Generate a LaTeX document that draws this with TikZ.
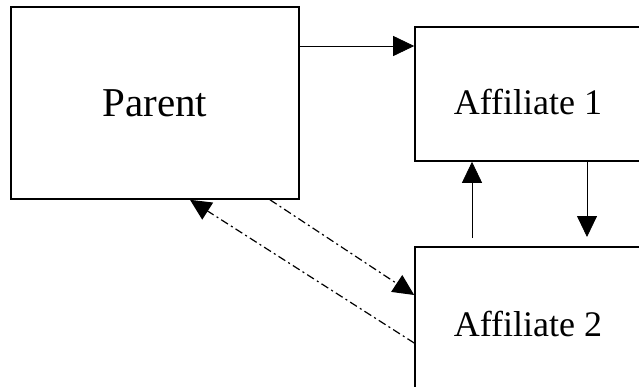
\documentclass[tikz,border=0pt]{standalone}
\usepackage{fontspec}
\setmainfont{Liberation Serif}
\usetikzlibrary{arrows.meta}

\begin{document}
\begin{tikzpicture}[x=1pt,y=-1pt,
	box/.style={shape=rectangle,draw=black,line width=1.6pt,inner sep=0pt},
	link/.style={line width=0.8pt,-{Triangle[length=21pt,width=20pt]}},
	dashdot/.style={link,line width=1.2pt,dash pattern=on 8pt off 3.5pt on 2pt off 3.5pt}]
	\clip (0,0) rectangle (639,386);
	\node[box,minimum width=288pt,minimum height=192pt,font=\fontsize{41}{49}\selectfont] (P) at (155,103) {Parent};
	\node[box,minimum width=226pt,minimum height=134pt,font=\fontsize{36}{43}\selectfont] (A1) at (528,94) {\raisebox{-8pt}[\height][\depth]{Affiliate 1}};
	\node[box,minimum width=226pt,minimum height=153pt,font=\fontsize{36}{43}\selectfont] (A2) at (528,323.5) {Affiliate 2};
	\coordinate (upfoot) at (472,238);
	\coordinate (downtip) at (587,237);

	\path [link](P.north east |- 0,46) edge (A1.north west |- 0,46);
	\path [link](upfoot) edge (A1.south -| upfoot);
	\path [link](A1.south -| downtip) edge (downtip);
	\path [dashdot](P.south -| 270,0) edge (A2.west |- 0,295);
	\path [dashdot](A2.west |- 0,343) edge (P.south -| 190,0);
\end{tikzpicture}
\end{document}
